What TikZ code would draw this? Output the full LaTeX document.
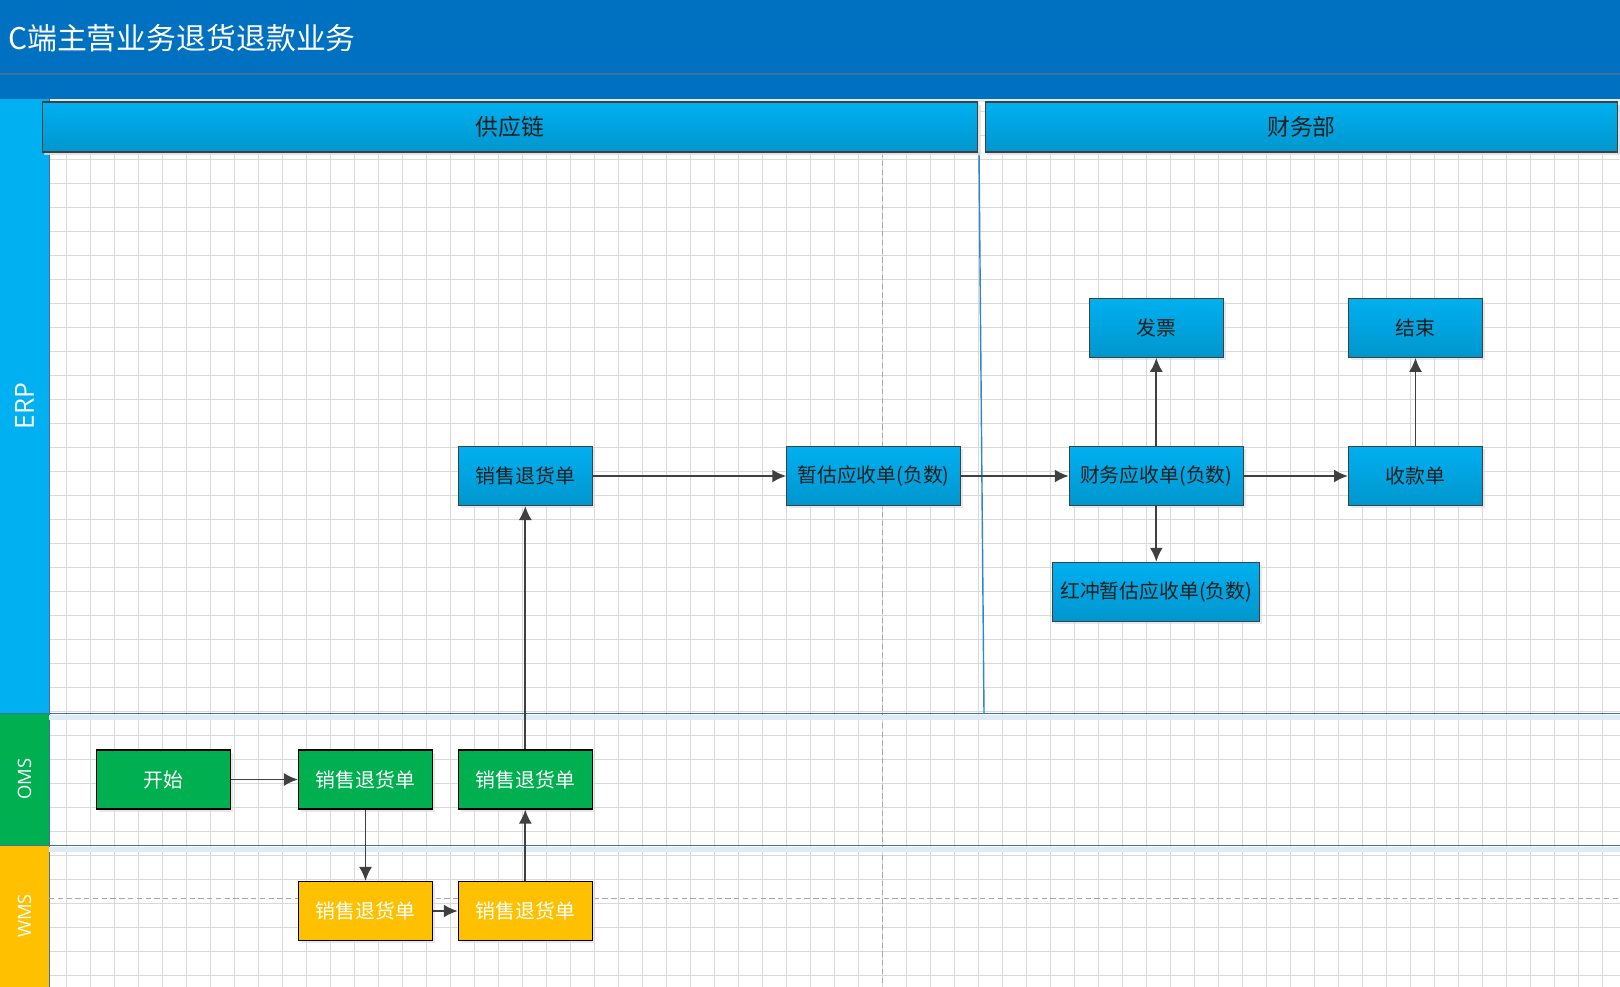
\documentclass[tikz,border=0pt]{standalone}
\usepackage{fontspec}
\setmainfont{Noto Sans CJK SC}
\newfontfamily\lanefont{Open Sans}
\usepackage{tikz}
\usetikzlibrary{arrows.meta, positioning, shadows}
\usepackage{xcolor}
\definecolor{titleblue}{HTML}{0070C0}
\definecolor{lanecyan}{HTML}{00B0F0}
\definecolor{boxbottom}{HTML}{0096CE}
\definecolor{omsgreen}{HTML}{00B050}
\definecolor{wmsyellow}{HTML}{FFC000}
\definecolor{edgegray}{HTML}{404040}
\definecolor{gridgray}{HTML}{D9D9D9}
\definecolor{laneline}{HTML}{41719C}
\definecolor{laneglow}{HTML}{DDEBF7}
\definecolor{pooledge}{HTML}{2F84D6}

\begin{document}
\begin{tikzpicture}[x=0.02cm, y=-0.02cm]
                    \tikzstyle{erpbox} = [
	shape=rectangle,
	draw=edgegray, %dark border round the box
	top color=lanecyan, bottom color=boxbottom, %blue gradient
	line width=0.6pt,
	minimum width=2.68cm, %most boxes are this wide
	minimum height=1.18cm,
	inner sep=0pt,
	text=black!88,
	font=\fontsize{11.3}{13}\selectfont,
	drop shadow={shadow xshift=1.5pt, shadow yshift=-1.5pt, fill=gray!30, opacity=0.6}
];
\tikzstyle{omsbox} = [erpbox, fill=omsgreen, top color=omsgreen, bottom color=omsgreen, draw=black, text=white];
\tikzstyle{wmsbox} = [erpbox, fill=wmsyellow, top color=wmsyellow, bottom color=wmsyellow, draw=black, text=white];
\tikzstyle{header} = [erpbox, minimum height=1.0cm, font=\fontsize{13}{15}\selectfont, drop shadow={shadow xshift=1pt, shadow yshift=-1.5pt, fill=gray!25, opacity=0.6}];
\tikzstyle{gridline} = [gridgray, line width=0.5pt];
\tikzstyle{lanelabel} = [rotate=90, text=white, inner sep=0pt];

\useasboundingbox (0,0) rectangle (1620,987);
\fill[white] (0,0) rectangle (1620,987);

%grid
\foreach \i in {2,...,66}
	\draw[gridline] ({18.7+24*\i},99) -- ({18.7+24*\i},987);
\foreach \j in {4,...,40}
	\draw[gridline] (49,{15.3+24*\j}) -- (1620,{15.3+24*\j});

%title band
\fill[titleblue] (0,0) rectangle (1620,99);
\draw[laneline, line width=0.6pt] (0,74) -- (1620,74);
\fill[laneglow] (49,99) rectangle (1620,102);
\node[anchor=west, text=white, font=\fontsize{17}{20}\selectfont] (Tt) at (2,38) {C端主营业务退货退款业务};

%lanes on the left
\fill[lanecyan] (0,99) rectangle (49,713);
\fill[omsgreen] (0,713) rectangle (49,845);
\fill[wmsyellow] (0,845) rectangle (49,987);
\draw[laneline, line width=0.5pt] (49,99) -- (49,987);
\node[lanelabel, font=\lanefont\fontsize{15}{18}\selectfont] (Le) at (24.5,406) {ERP};
\node[lanelabel, font=\lanefont\fontsize{10.5}{12}\selectfont] (Lo) at (24.5,779) {OMS};
\node[lanelabel, font=\lanefont\fontsize{10.5}{12}\selectfont] (Lw) at (24.5,916) {WMS};

%dashed guides
\draw[gray!70, line width=0.5pt, dash pattern=on 3pt off 2pt] (882.7,152) -- (882.7,987);
\draw[gray!70, line width=0.5pt, dash pattern=on 3pt off 2pt] (49,898.3) -- (1620,898.3);

%lane and pool borders
\draw[laneglow, line width=2.5pt] (49,717.5) -- (1620,717.5);
\draw[laneglow, line width=2.5pt] (49,849.5) -- (1620,849.5);
\draw[laneline, line width=0.8pt] (0,713.5) -- (1620,713.5);
\draw[laneline, line width=0.8pt] (0,845.5) -- (1620,845.5);
\draw[pooledge, line width=0.8pt] (979,152) -- (984,713.5);

%column headers
\node[header, minimum width=18.72cm] (Gy) at (510,127) {供应链};
\node[header, minimum width=12.66cm] (Cb) at (1301.5,127) {财务部};

%oms and wms
\node[omsbox](Ks) at (163.5,779.5) {开始};
\node[omsbox](Ot1) at (365.5,779.5) {销售退货单};
\node[omsbox](Ot2) at (525.3,779.5) {销售退货单};
\node[wmsbox](Wt1) at (365.5,911) {销售退货单};
\node[wmsbox](Wt2) at (525.3,911) {销售退货单};

%erp
\node[erpbox](Et) at (525.3,476) {销售退货单};
\node[erpbox, minimum width=3.47cm](Zg) at (873.5,476) {暂估应收单(负数)};
\node[erpbox, minimum width=3.48cm](Cw) at (1156.3,476) {财务应收单(负数)};
\node[erpbox](Fp) at (1156.3,327.8) {发票};
\node[erpbox, minimum width=4.14cm](Hc) at (1156.3,591.8) {红冲暂估应收单(负数)};
\node[erpbox](Sk) at (1415.5,476) {收款单};
\node[erpbox](Js) at (1415.5,327.8) {结束};

%return flow
\draw[-{Latex[length=2.8mm,width=2.6mm]}, line width=1.1pt, color=edgegray]
	(Ks) edge[] (Ot1)
	(Ot1) edge[] (Wt1)
	(Wt1) edge[] (Wt2)
	(Wt2) edge[] (Ot2)
	(Ot2) edge[] (Et)
	(Et) edge[] (Zg)
	(Zg) edge[] (Cw)
;

%finance
\draw[-{Latex[length=2.8mm,width=2.6mm]}, line width=1.1pt, color=edgegray]
	(Cw) edge[] (Fp)
	(Cw) edge[] (Hc)
	(Cw) edge[] (Sk)
	(Sk) edge[] (Js)
;

                \end{tikzpicture}
\end{document}
